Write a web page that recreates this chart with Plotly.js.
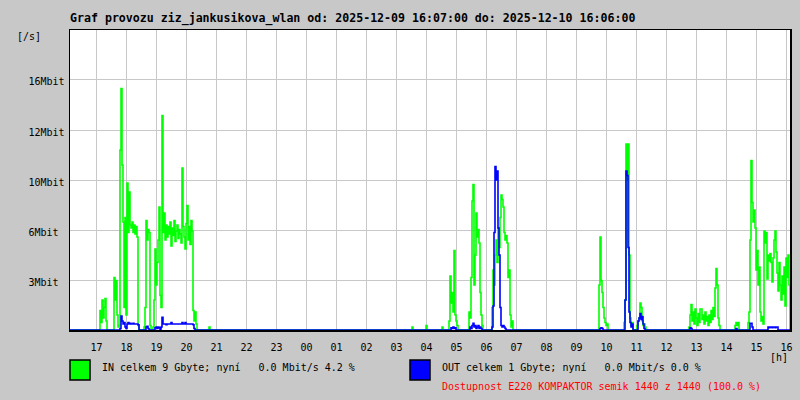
<!DOCTYPE html>
<html>
<head>
<meta charset="utf-8">
<script src="https://cdn.plot.ly/plotly-3.0.1.min.js"></script>
<style>
  html, body { margin: 0; padding: 0; background: #c8c8c8; }
  #chart { width: 800px; height: 400px; }
</style>
</head>
<body>
<div id="chart"></div>
<script>
// Time axis: minutes since 2025-12-09 16:07:00, samples every 2 minutes inside active periods
const sampleStep = 2;
const xTickMinutes = [53, 113, 173, 233, 293, 353, 413, 473, 533, 593, 653, 713, 773, 833, 893, 953, 1013, 1073, 1133, 1193, 1253, 1313, 1373, 1433];
const xTickText = ['17','18','19','20','21','22','23','00','01','02','03','04','05','06','07','08','09','10','11','12','13','14','15','16'];

const yTickVals = [3.333, 6.667, 10, 13.333, 16.667];
const yTickText = ['3Mbit\u00a0', '6Mbit\u00a0', '10Mbit', '12Mbit', '16Mbit'];

// IN traffic [Mbit/s]: start minute of each active period and its samples
const inStarts = [58, 86, 148, 164, 276, 682, 710, 742, 756, 796, 842, 1056, 1106, 1132, 1236, 1328, 1354];
const inValues = [
  [0,1.3,0.5,2.0,0.8,1.5,2.1,0.6,0],
  [0,3.5,2.0,3.3,1.0,0.2,0.3,12.0,16.1,11.0,7.2,1.5,7.5,1.0,9.8,6.5,9.2,7.0,6.8,7.2,6.5,7.0,6.4,6.9,6.2,0.3,0],
  [0.2,1.5,7.3,6.0,6.7,6.5,0.3,0],
  [0,0.2,2.0,5.4,3.0,4.5,6.0,8.2,2.3,1.5,14.3,6.5,7.8,6.0,7.0,6.2,6.9,6.4,7.2,5.6,6.8,6.3,7.3,5.9,6.6,7.0,6.1,6.7,6.4,5.8,10.8,6.9,6.2,5.4,7.1,8.3,6.0,6.9,5.7,7.3,6.6,1.3,0.6,1.2,0.4,0],
  [0,0.2,0],
  [0,0.2,0],
  [0,0.3,0],
  [0,0.2,0],
  [0,0.6,3.6,1.8,2.5,1.2,5.3,1.0,0.6,0.3,0],
  [0,1.2,0.8,3.5,8.6,9.7,3.0,5.0,7.8,6.2,6.7,5.8,2.5,1.0,0.3,0],
  [0,1.5,4.0,3.0,5.0,6.0,4.5,6.8,5.5,7.5,9.0,8.7,8.2,6.5,6.0,6.3,5.8,3.5,4.0,1.0,0.2,0.6,0],
  [0,3.0,6.2,3.3,2.5,1.5,0.8,0.5,0.3,0.4,0],
  [0,0.5,2.0,12.4,10.0,12.4,5.0,0.8,0.3,0.5,0],
  [0,0.3,0.6,0.8,1.8,1.5,0.6,0.3,0.4,0.2,0],
  [0,0.2,1.0,1.7,0.6,1.2,0.4,1.4,0.8,0.3,1.1,0.5,1.4,1.4,0.7,1.0,0.4,1.2,0.6,0.9,0.3,1.0,0.5,1.3,0.7,1.5,0.9,2.8,4.1,3.0,0.8,0.3,0],
  [0,0.3,0.5,0.3,0.5,0],
  [0,0.5,1.2,6.0,11.3,8.5,7.2,8.0,6.8,4.0,5.3,3.0,4.2,1.2,0.6,0.9,0.4,6.6,5.8,6.5,3.4,5.0,4.6,5.1,4.5,3.2,4.8,6.0,6.6,5.2,3.8,2.6,4.5,3.0,2.0,3.6,2.4,4.2,1.6,4.8,3.5,5.0,3.0]
];

// OUT traffic [Mbit/s]
const outStarts = [98, 150, 168, 760, 798, 842, 1058, 1108, 1134, 1238, 1330, 1358, 1394];
const outValues = [
  [0,0.1,0.93,0.6,0.4,0.5,0.2,0.1,0.4,0.5,0.4,0.45,0.4,0.4,0.45,0.4,0.4,0.4,0.4,0.35,0],
  [0,0.2,0.25,0.1,0],
  [0,0.15,0.2,0.1,0.2,0.15,0,0.2,0.85,0.4,0.4,0.4,0.35,0.4,0.4,0.4,0.4,0.5,0.4,0.4,0.4,0.4,0.4,0.4,0.4,0.4,0.4,0.4,0.5,0.4,0.4,0.5,0.4,0.4,0.4,0.4,0.4,0.4,0.4,0.35,0.1,0],
  [0,0.15,0.1,0.2,0.1,0.15,0],
  [0,0.2,0.1,0.3,0.45,0.2,0.3,0.1,0.2,0.3,0.1,0.2,0.1,0],
  [0,0.2,1.6,6.5,10.9,10.0,10.6,6.8,5.0,1.5,0.3,0.2,0.3,0.2,0.1,0],
  [0,0.1,0.15,0.1,0],
  [0,2.0,10.6,10.3,5.5,1.2,0.5,0.2,0.4,0],
  [0,0.6,0.8,1.1,0.7,0.9,0.4,0.1,0],
  [0,0.15,0.1,0],
  [0,0.1,0],
  [0,0.45,0.45,0.2,0],
  [0,0.2,0.15,0.2,0.2,0.15,0.2,0.2,0.15,0.2,0.2,0]
];

function buildSeries(starts, values) {
  const xs = [0], ys = [0];
  starts.forEach((s, i) => {
    values[i].forEach((v, j) => { xs.push(s + j * sampleStep); ys.push(v); });
  });
  xs.push(1440); ys.push(0);
  return { xs, ys };
}

const inS = buildSeries(inStarts, inValues);
const outS = buildSeries(outStarts, outValues);

const mono = 'DejaVu Sans Mono, Liberation Mono, monospace';

const traces = [
  { x: inS.xs, y: inS.ys, type: 'scatter', mode: 'lines', line: { color: '#00ff00', width: 1.6, shape: 'hv' }, hoverinfo: 'skip' },
  { x: outS.xs, y: outS.ys, type: 'scatter', mode: 'lines', line: { color: '#0000ff', width: 1.6, shape: 'hv' }, hoverinfo: 'skip' }
];

const layout = {
  width: 800, height: 400,
  margin: { l: 70, r: 10, t: 30, b: 70, pad: 0 },
  paper_bgcolor: '#c8c8c8',
  plot_bgcolor: '#ffffff',
  showlegend: false,
  title: {
    text: '<b>Graf provozu ziz_jankusikova_wlan od: 2025-12-09 16:07:00 do: 2025-12-10 16:06:00</b>',
    x: 70 / 800, xanchor: 'left', xref: 'container',
    y: 1 - 18 / 400, yanchor: 'middle', yref: 'container',
    font: { family: mono, size: 11.6, color: '#000000' }
  },
  xaxis: {
    range: [0, 1440], tickmode: 'array', tickvals: xTickMinutes, ticktext: xTickText,
    showgrid: true, gridcolor: '#c8c8c8', gridwidth: 1, zeroline: false,
    showline: true, linecolor: '#000000', linewidth: 1.5, mirror: true, ticks: '',
    tickfont: { family: mono, size: 10, color: '#000000' }, ticklabelstandoff: 7
  },
  yaxis: {
    range: [0, 20], tickmode: 'array', tickvals: yTickVals, ticktext: yTickText,
    showgrid: true, gridcolor: '#c8c8c8', gridwidth: 1, zeroline: false,
    showline: true, linecolor: '#000000', linewidth: 1.5, mirror: true, ticks: '',
    tickfont: { family: mono, size: 10, color: '#000000' }, ticklabelstandoff: 2, ticklabelshift: 2
  },
  shapes: [
    { type: 'rect', xref: 'paper', yref: 'paper', x0: 0, x1: 20 / 720, y0: -50 / 300, y1: -30 / 300,
      fillcolor: '#00ff00', line: { color: '#000000', width: 1.5 } },
    { type: 'rect', xref: 'paper', yref: 'paper', x0: 340 / 720, x1: 360 / 720, y0: -50 / 300, y1: -30 / 300,
      fillcolor: '#0000ff', line: { color: '#000000', width: 1.5 } }
  ],
  annotations: [
    { xref: 'paper', yref: 'paper', x: 30 / 720, y: -37 / 300, xanchor: 'left', yanchor: 'middle', showarrow: false,
      text: 'IN celkem 9 Gbyte; nyní\u00a0\u00a0\u00a00.0 Mbit/s 4.2 %', font: { family: mono, size: 10, color: '#000000' } },
    { xref: 'paper', yref: 'paper', x: 370 / 720, y: -37 / 300, xanchor: 'left', yanchor: 'middle', showarrow: false,
      text: 'OUT celkem 1 Gbyte; nyní\u00a0\u00a0\u00a00.0 Mbit/s 0.0 %', font: { family: mono, size: 10, color: '#000000' } },
    { xref: 'paper', yref: 'paper', x: 370 / 720, y: -56.7 / 300, xanchor: 'left', yanchor: 'middle', showarrow: false,
      text: 'Dostupnost E220 KOMPAKTOR semik 1440 z 1440 (100.0 %)', font: { family: mono, size: 10, color: '#ff0000' } },
    { xref: 'paper', yref: 'paper', x: 709 / 720, y: -27 / 300, xanchor: 'center', yanchor: 'middle', showarrow: false,
      text: '[h]', font: { family: mono, size: 10, color: '#000000' } },
    { xref: 'paper', yref: 'paper', x: -55 / 720, y: 293 / 300, xanchor: 'left', yanchor: 'middle', showarrow: false,
      text: '[/s]', font: { family: mono, size: 10, color: '#000000' } }
  ]
};

Plotly.newPlot('chart', traces, layout, { staticPlot: true, displayModeBar: false });
</script>
</body>
</html>
